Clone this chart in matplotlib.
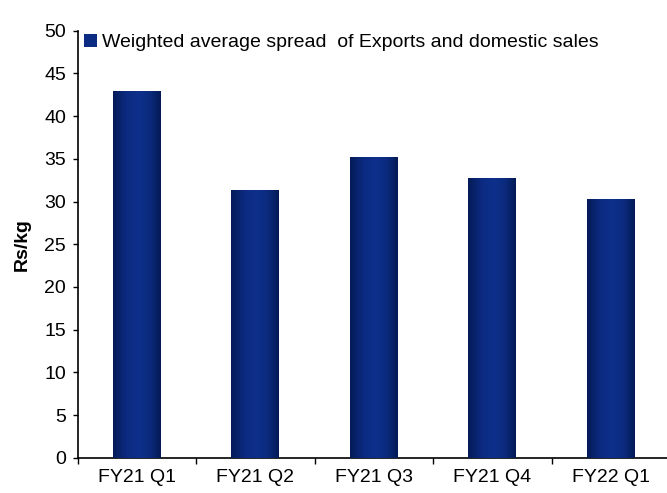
import matplotlib.pyplot as plt
import numpy as np
from matplotlib.colors import LinearSegmentedColormap
from matplotlib.patches import Patch

plt.rcParams["font.family"] = ["Liberation Sans", "DejaVu Sans"]

quarters = ["FY21 Q1", "FY21 Q2", "FY21 Q3", "FY21 Q4", "FY22 Q1"]
spread = [43.0, 31.35, 35.2, 32.75, 30.3]
series_name = "Weighted average spread  of Exports and domestic sales"

# dark edges, brighter middle band, like a shaded column
bar_cmap = LinearSegmentedColormap.from_list(
    "column",
    [(0.0, "#051b58"), (0.3, "#0c2b82"), (0.55, "#0e308c"),
     (0.78, "#0b2a7c"), (1.0, "#041a55")],
)

fig = plt.figure(figsize=(6.67, 4.93), dpi=100)
ax = fig.add_axes([0.1165, 0.0716, 0.888, 0.866])

x = np.arange(len(quarters))
bars = ax.bar(x, spread, width=0.405, color="#0c2c84", zorder=2)

grad = np.linspace(0, 1, 256).reshape(1, -1)
for b in bars:
    x0, w, h = b.get_x(), b.get_width(), b.get_height()
    im = ax.imshow(grad, cmap=bar_cmap, aspect="auto",
                   extent=[x0, x0 + w, 0, h], zorder=3)
    im.set_clip_path(b)

ax.set_xlim(-0.5, len(quarters) - 0.5)
ax.set_ylim(0, 50)
ax.set_yticks(range(0, 51, 5))

ax.set_xticks(x)
ax.set_xticklabels(quarters, fontsize=14)
ax.set_xticks(np.arange(-0.5, len(quarters)), minor=True)
ax.tick_params(axis="x", which="major", length=0, pad=8)
ax.tick_params(axis="x", which="minor", length=4, width=1, color="black")
ax.tick_params(axis="y", length=3.6, width=1, labelsize=14, pad=4.8)

for side in ("top", "right"):
    ax.spines[side].set_visible(False)
for side in ("left", "bottom"):
    ax.spines[side].set_color("black")
    ax.spines[side].set_linewidth(1.2)

ax.set_ylabel("Rs/kg", fontsize=14, fontweight="bold", labelpad=10)

ax.legend(handles=[Patch(facecolor="#0c2c84", label=series_name)],
          loc="upper left", bbox_to_anchor=(-0.012, 1.025), frameon=False,
          fontsize=14, handlelength=0.65, handleheight=0.65,
          handletextpad=0.25, borderaxespad=0.3)

fig.savefig("out.png", dpi=100)
